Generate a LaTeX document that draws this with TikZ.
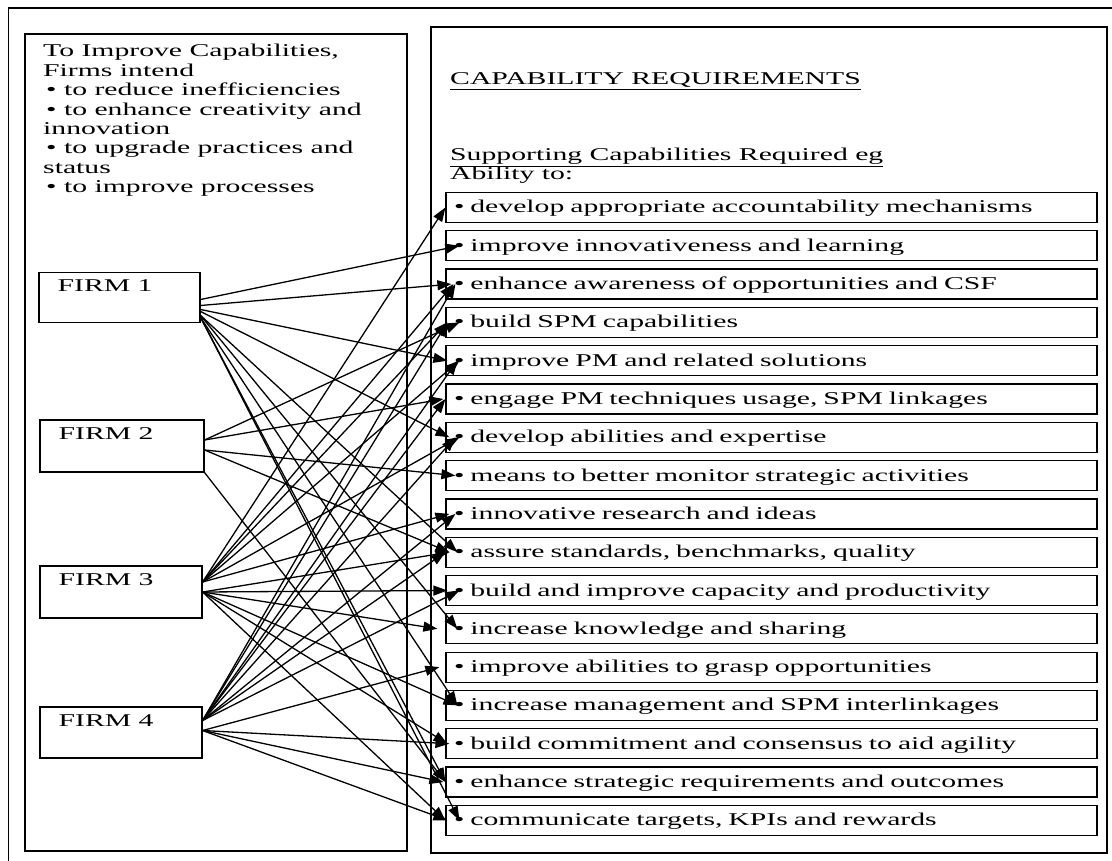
\documentclass[tikz,border=0pt]{standalone}
\usepackage{fontspec}
\setmainfont{Liberation Serif}[FakeStretch=1.65]
\usetikzlibrary{arrows.meta,positioning}

\begin{document}
\begin{tikzpicture}[x=1pt,y=1pt,
  every node/.style={font=\fontsize{18}{19.5}\selectfont},
  panel/.style={draw,line width=1.3pt},
  firm/.style={draw,line width=1.2pt,minimum height=50pt,inner sep=0pt},
  capbox/.style={draw,line width=1.2pt,minimum height=30pt,text width=635pt,align=left,
    inner xsep=8pt,inner ysep=0pt,text height=14pt,text depth=3pt},
  txt/.style={anchor=base west,inner sep=0pt},
  arr/.style={line width=1.3pt,-{Triangle[length=14pt,width=10pt]}}]
  \useasboundingbox (0,0) rectangle (1112,-861);
  \draw[line width=1.5pt] (8.5,-8) rectangle (1140,-890);
  \draw[panel] (25,-34) rectangle (407,-851);
  \draw[panel] (431,-27) rectangle (1107,-853);
  \foreach \k/\t in {0/{To Improve Capabilities,}, 1/{Firms intend},
      2/{\,\textbullet\ to reduce inefficiencies}, 3/{\,\textbullet\ to enhance creativity and},
      4/{innovation}, 5/{\,\textbullet\ to upgrade practices and}, 6/{status},
      7/{\,\textbullet\ to improve processes}}
    \node[txt] (i\k) at (43,{-57-19.4*\k}) {\t};
  \node[txt] (head) at (450,-85) {\underline{CAPABILITY REQUIREMENTS}};
  \node[txt] (sub) at (450,-161) {\underline{Supporting Capabilities Required eg}};
  \node[txt] (abl) at (450,-180) {Ability to:};
  \node[firm,minimum width=161pt] (f1) at (119.5,-297.5) {};
  \node[firm,minimum width=164pt,minimum height=52pt] (f2) at (122,-446) {};
  \node[firm,minimum width=162pt,minimum height=52pt] (f3) at (121,-592) {};
  \node[firm,minimum width=162pt,minimum height=51pt] (f4) at (121,-732.5) {};
  \foreach \f in {1,...,4}
    \node[txt] (l\f) at ([xshift=19pt,yshift=-20pt]f\f.north west) {FIRM \f};
  \foreach \i/\t in {1/{develop appropriate accountability mechanisms},
      2/{improve innovativeness and learning},
      3/{enhance awareness of opportunities and CSF},
      4/{build SPM capabilities},
      5/{improve PM and related solutions},
      6/{engage PM techniques usage, SPM linkages},
      7/{develop abilities and expertise},
      8/{means to better monitor strategic activities},
      9/{innovative research and ideas},
      10/{assure standards, benchmarks, quality},
      11/{build and improve capacity and productivity},
      12/{increase knowledge and sharing},
      13/{improve abilities to grasp opportunities},
      14/{increase management and SPM interlinkages},
      15/{build commitment and consensus to aid agility},
      16/{enhance strategic requirements and outcomes},
      17/{communicate targets, KPIs and rewards}}
    \node[capbox] (c\i) at (771.5,{-207.5-38.3*(\i-1)}) {\textbullet\ \t};
  \foreach \f/\a/\c/\b in {1/-2/2/14, 1/-8/3/6, 1/-12/5/2, 1/-14/7/4, 1/-18/10/12,
      1/-18/12/12, 1/-20/14/12, 1/-20/16/0, 1/-20/17/14,
      2/6/4/14, 2/6/6/-2, 2/-4/8/10, 2/-4/10/4,
      3/10/1/0, 3/10/3/8, 3/10/4/2, 3/10/5/14, 3/10/7/14, 3/10/9/4,
      3/0/10/4, 3/0/11/2, 3/0/12/-8, 3/0/14/12, 3/0/15/2, 3/0/17/0,
      4/12/3/10, 4/12/4/2, 4/12/5/12, 4/12/6/0, 4/12/7/10, 4/12/9/10,
      4/12/10/0, 4/12/11/14, 4/2/13/-6, 4/2/15/4, 4/2/16/-2, 4/2/17/2}
    \draw[arr] ([yshift=\a pt]f\f.east) -- ([xshift=\b pt]c\c.west);
  \draw[arr] (f2.south east) -- (c16.west);
\end{tikzpicture}
\end{document}
